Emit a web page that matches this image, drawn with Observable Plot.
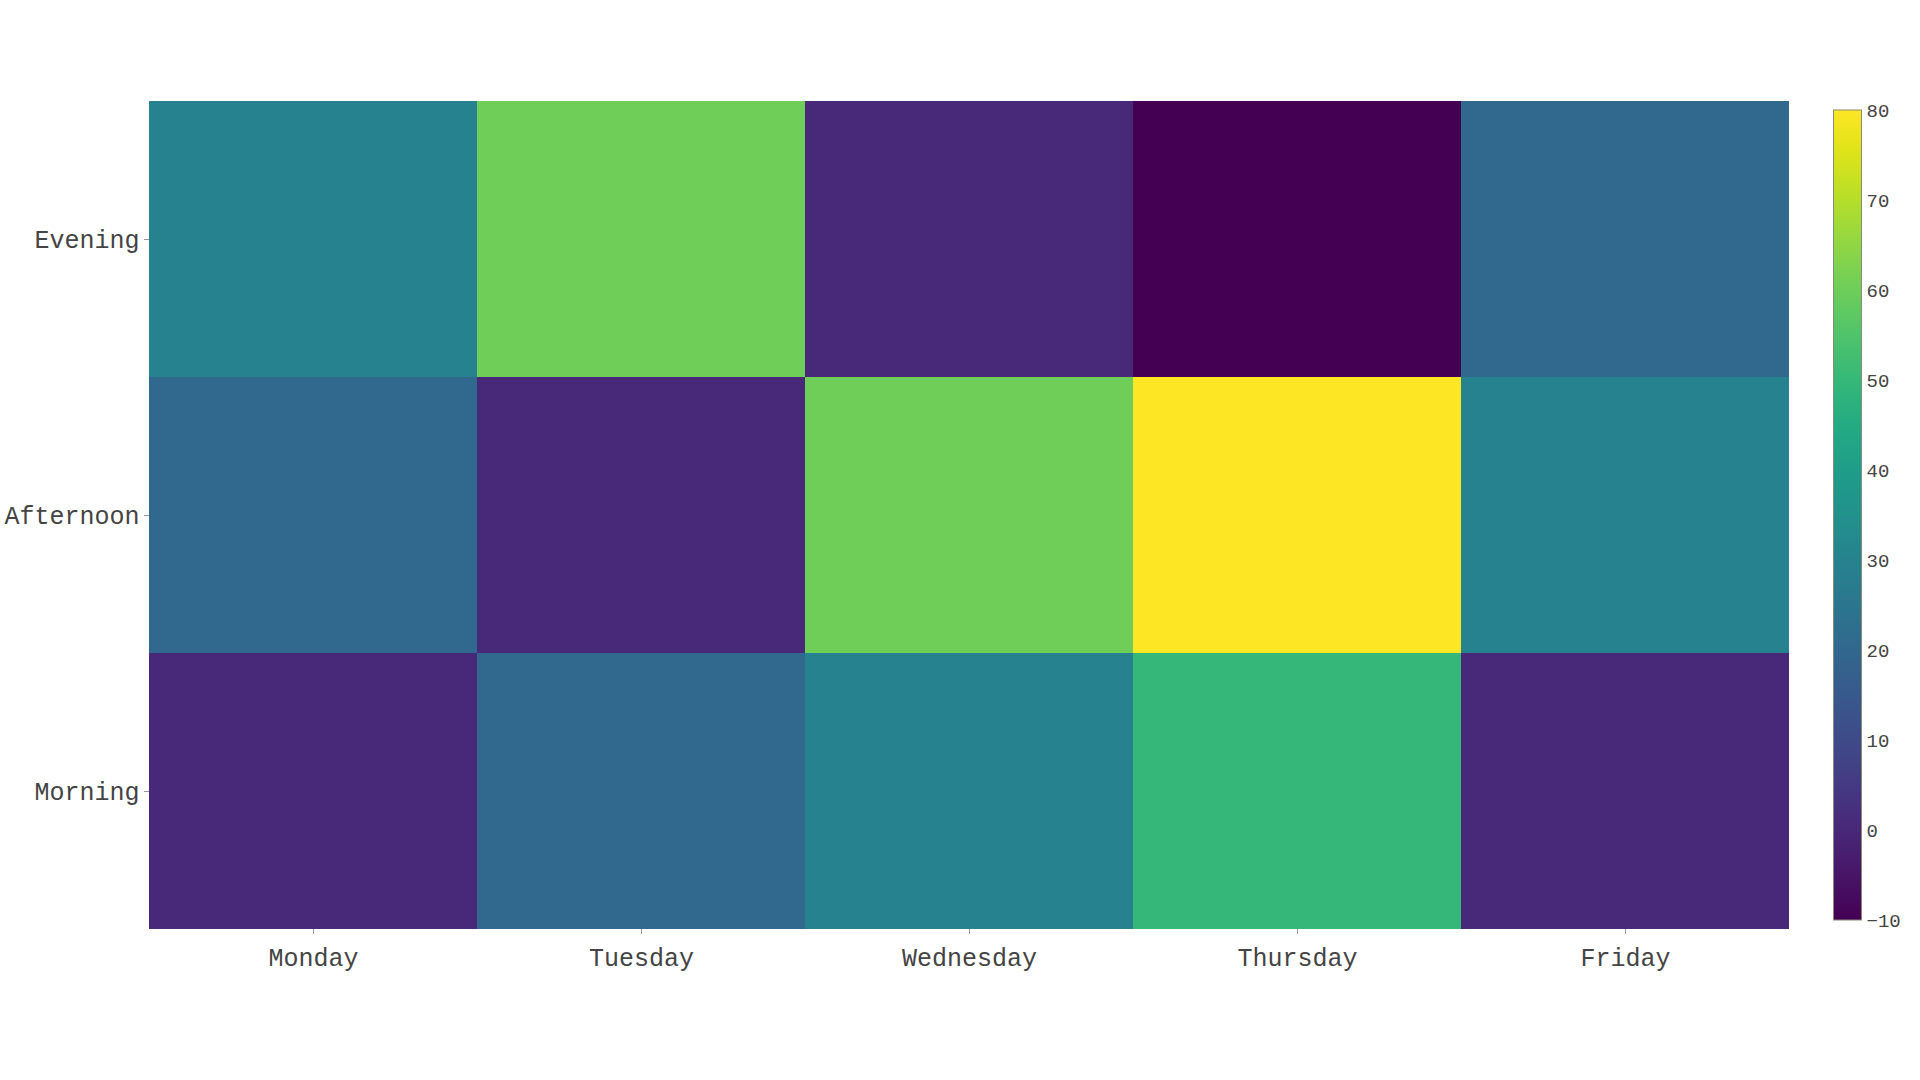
<!DOCTYPE html>
<html>
<head>
<meta charset="utf-8">
<script src="https://cdn.jsdelivr.net/npm/d3@7"></script>
<script src="https://cdn.jsdelivr.net/npm/@observablehq/plot@0.6"></script>
<style>
  html, body { margin: 0; padding: 0; background: #fff; }
  #wrap { position: relative; width: 1920px; height: 1080px; overflow: hidden; }
  #cbar { position: absolute; left: 1833px; top: 0; width: 120px; }
  svg { max-width: none !important; }
</style>
</head>
<body>
<div id="wrap"><div id="main"></div><div id="cbar"></div></div>
<script>
const days = ["Monday", "Tuesday", "Wednesday", "Thursday", "Friday"];
const times = ["Morning", "Afternoon", "Evening"];
const morning = [0, 20, 30, 50, 0];
const afternoon = [20, 0, 60, 80, 30];
const evening = [30, 60, 0, -10, 20];
const colorTicks = [-10, 0, 10, 20, 30, 40, 50, 60, 70, 80];

const series = {Morning: morning, Afternoon: afternoon, Evening: evening};
const data = [];
for (const t of times) days.forEach((d, i) => data.push({day: d, time: t, value: series[t][i]}));

const font = "'Liberation Mono', 'DejaVu Sans Mono', monospace";
const textColor = "#444";

const main = Plot.plot({
  width: 1920,
  height: 1080,
  marginLeft: 149,
  marginRight: 131,
  marginTop: 100,
  marginBottom: 151,
  style: {fontFamily: font, fontSize: "25px", color: textColor, background: "transparent"},
  x: {domain: days, padding: 0, label: null},
  y: {domain: times.slice().reverse(), padding: 0, label: null},
  color: {type: "linear", scheme: "viridis", domain: [-10, 80]},
  marks: [
    Plot.cell(data, {x: "day", y: "time", fill: "value", inset: 0}),
    Plot.axisX({tickSize: 5, tickPadding: 14, stroke: "#999", fill: textColor, fontSize: 25, label: null}),
    Plot.axisY({tickSize: 5, tickPadding: 5, stroke: "#999", fill: textColor, fontSize: 25, label: null})
  ]
});
document.getElementById("main").appendChild(main);

const barTop = 110, barBottom = 920, barW = 29;
const cbar = Plot.plot({
  width: barW + 80,
  height: 1080,
  marginLeft: 0,
  marginRight: 80,
  marginTop: barTop,
  marginBottom: 1080 - barBottom,
  style: {fontFamily: font, fontSize: "19px", color: textColor, background: "transparent"},
  x: {domain: [0, 1], axis: null},
  y: {domain: [-10, 80], label: null},
  marks: [
    Plot.axisY(colorTicks, {anchor: "right", tickSize: 0, tickPadding: 4, fill: textColor, fontSize: 19, label: null})
  ]
});
// gradient bar
const svg = d3.select(cbar.tagName.toLowerCase() === "svg" ? cbar : cbar.querySelector("svg"));
const gid = "vgrad";
const grad = svg.insert("defs", ":first-child").append("linearGradient")
  .attr("id", gid).attr("x1", 0).attr("x2", 0).attr("y1", 1).attr("y2", 0);
for (let i = 0; i <= 20; i++) {
  grad.append("stop").attr("offset", i / 20).attr("stop-color", d3.interpolateViridis(i / 20));
}
svg.insert("rect", "defs + *")
  .attr("x", 0.5).attr("y", barTop).attr("width", barW - 1).attr("height", barBottom - barTop)
  .attr("fill", `url(#${gid})`).attr("stroke", "#8a8a7a").attr("stroke-width", 1);
document.getElementById("cbar").appendChild(cbar);
</script>
</body>
</html>
